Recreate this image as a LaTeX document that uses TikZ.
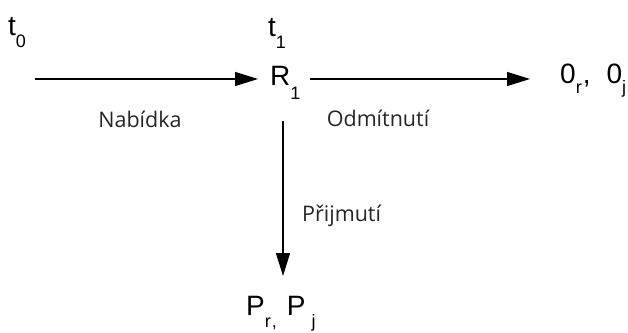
\documentclass[tikz,border=0pt]{standalone}
\usepackage{fontspec}
\setmainfont{Liberation Sans}
\newfontfamily\labelfont{Open Sans}
\usetikzlibrary{arrows.meta}
\newcommand\lowsub[2]{\raisebox{-#1pt}{\fontsize{18}{18}\selectfont #2}}
\definecolor{labelgray}{HTML}{262626}
\tikzset{
  big/.style={inner sep=0pt, anchor=base west, font=\fontsize{28}{28}\selectfont},
  lbl/.style={inner sep=0pt, anchor=base, text=labelgray, font=\labelfont\fontsize{21.5}{21.5}\selectfont},
  arr/.style={line width=1.3pt, -{Triangle[length=23pt,width=14pt]}}
}
\begin{document}
\begin{tikzpicture}[x=1pt,y=-1pt]
\useasboundingbox (0,0) rectangle (628,332);
\node[big] (t0) at (8,35) {t\lowsub{12}{0}};
\node[big] (t1) at (268,36) {t\lowsub{12}{1}};
\node[big] (r1) at (270,85) {R\lowsub{14}{1}};
\node[big] (o) at (560,83) {0\lowsub{10}{r}\hspace{1pt},\hspace{16pt}0\lowsub{10}{j}};
\node[big] (p) at (246,315) {P\lowsub{12}{r\kern1pt,}\hspace{10pt}P\lowsub{12}{\kern6pt j}};
\coordinate (s1) at (35,79);
\coordinate (e1) at (258,79);
\coordinate (s2) at (310,79);
\coordinate (e2) at (530,79);
\coordinate (s3) at (283,121);
\coordinate (e3) at (283,276);
\draw[arr] (s1) -- (e1);
\draw[arr] (s2) -- (e2);
\draw[arr] (s3) -- (e3);
\node[lbl] (nab) at (140,127) {Nabídka};
\node[lbl] (odm) at (378,126) {Odmítnutí};
\node[lbl, anchor=base west] (pri) at (302,221) {Přijmutí};
\end{tikzpicture}
\end{document}
